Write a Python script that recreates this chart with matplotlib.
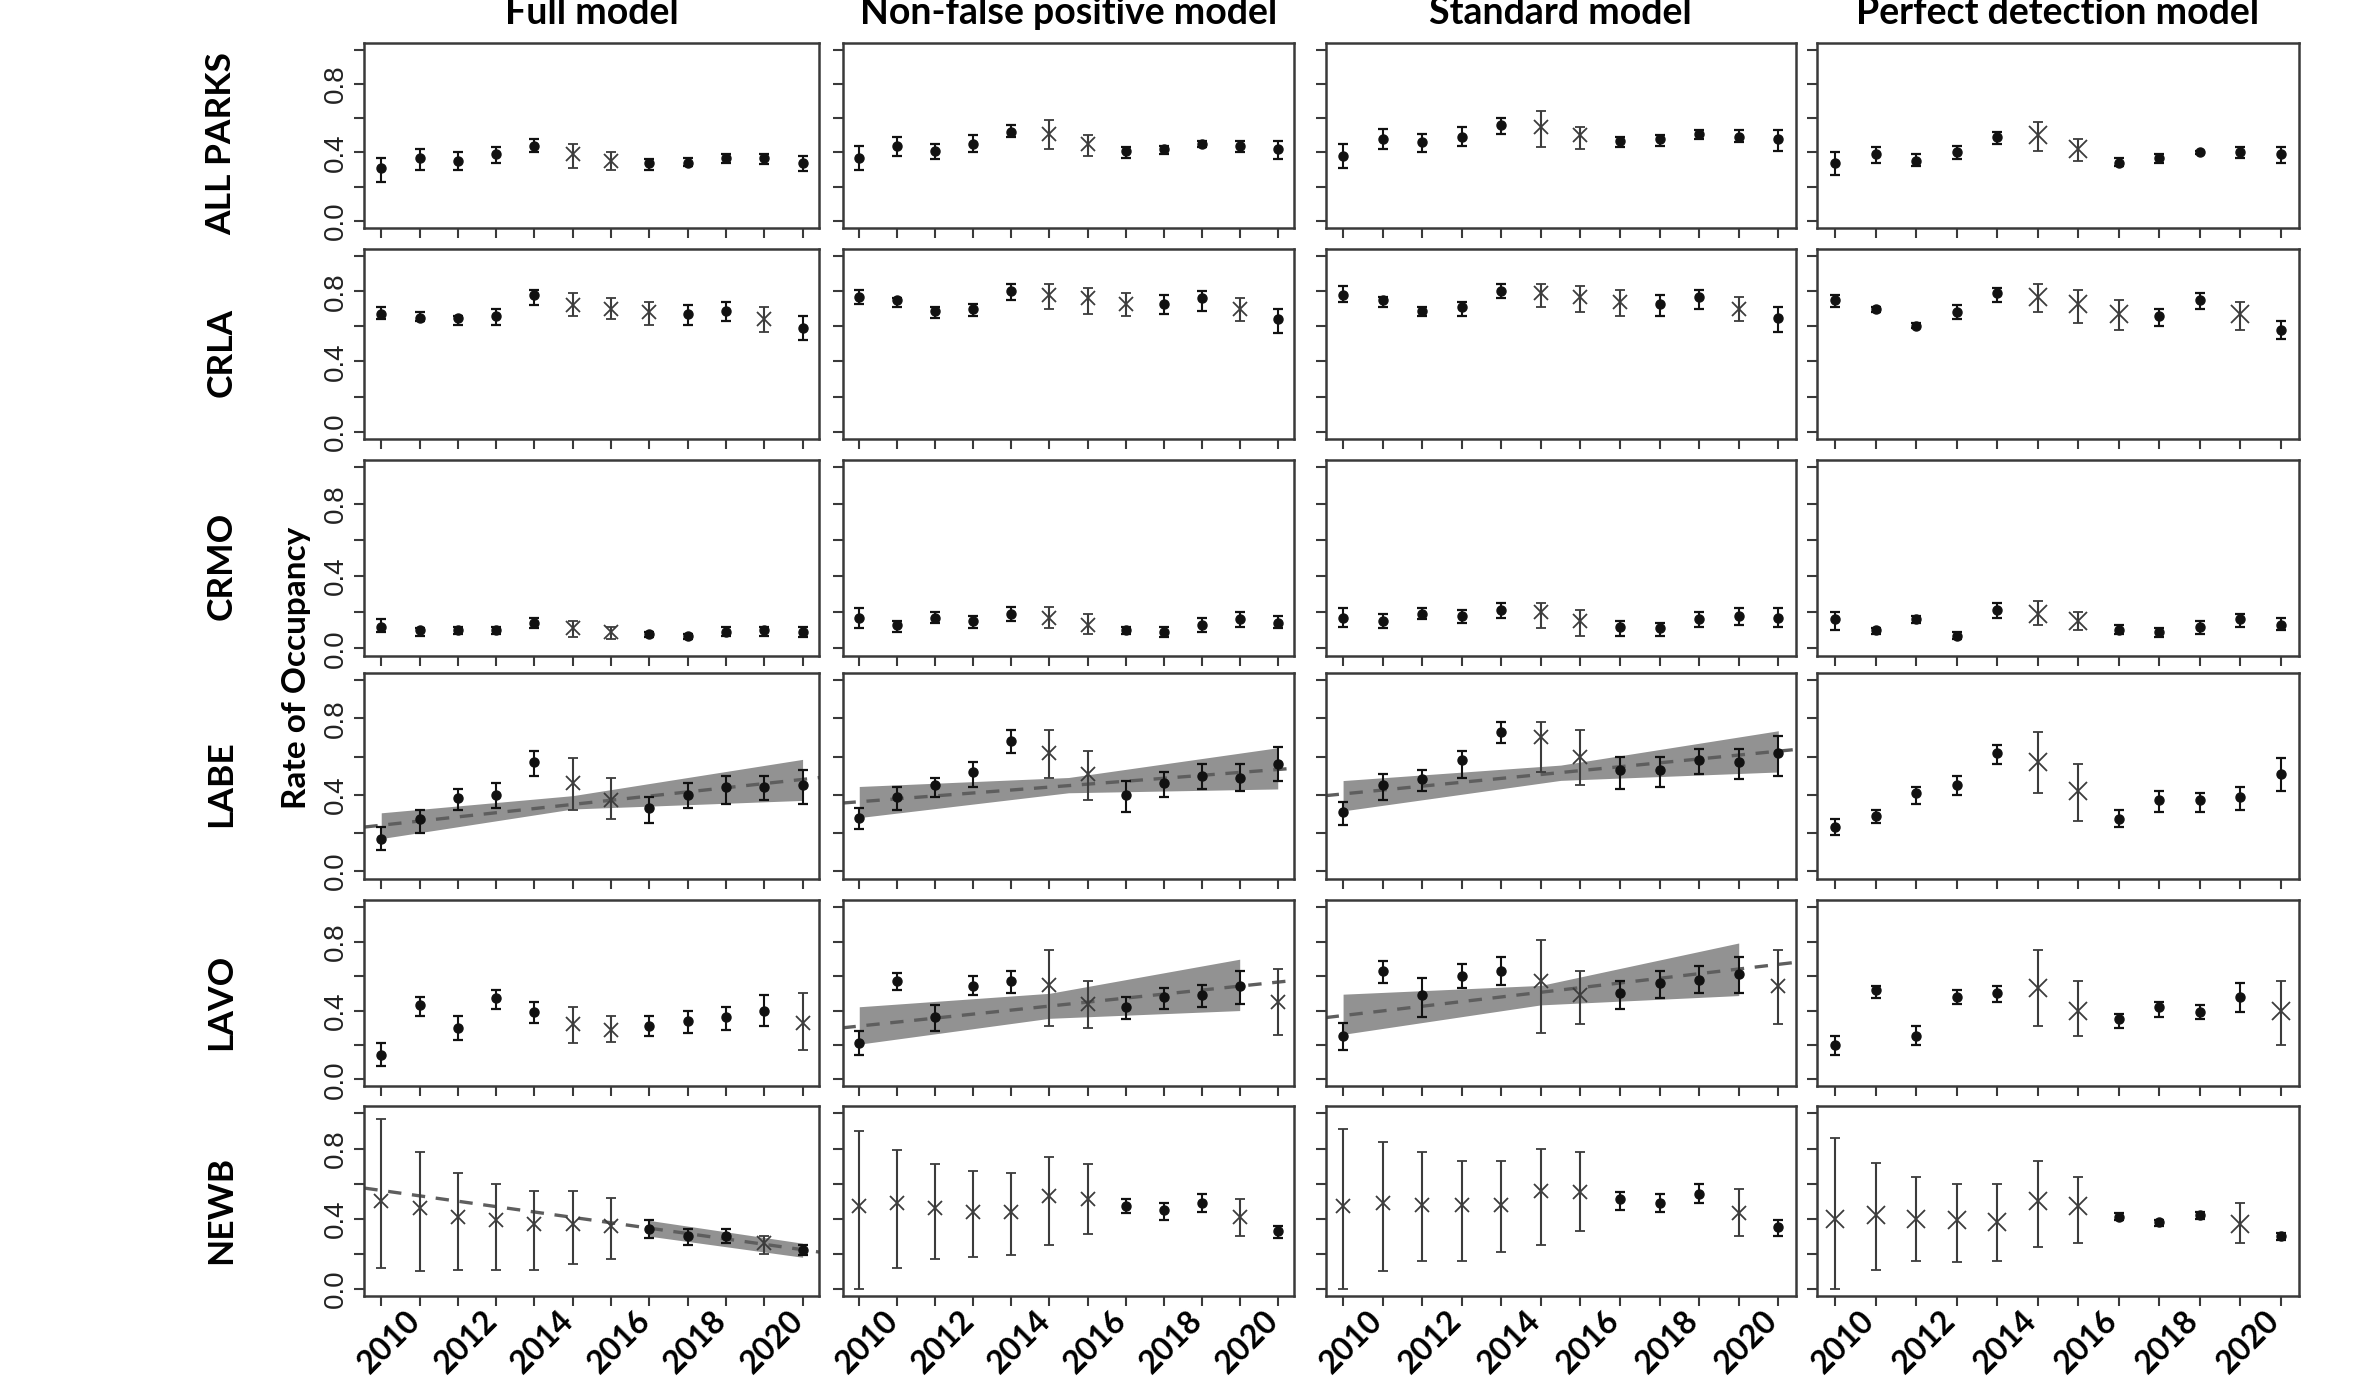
import numpy as np
import matplotlib.pyplot as plt
from matplotlib.transforms import ScaledTranslation

years = list(range(2010, 2022))
models = ["Full model", "Non-false positive model", "Standard model", "Perfect detection model"]
parks = ["ALL PARKS", "CRLA", "CRMO", "LABE", "LAVO", "NEWB"]

# years drawn with an "x" instead of a dot (same in every model)
x_years = {
    "ALL PARKS": [2015, 2016],
    "CRLA": [2015, 2016, 2017, 2020],
    "CRMO": [2015, 2016],
    "LABE": [2015, 2016],
    "LAVO": [2015, 2016, 2021],
    "NEWB": [2010, 2011, 2012, 2013, 2014, 2015, 2016, 2020],
}

# ---- Full model
full_est = {
    "ALL PARKS": [0.31, 0.37, 0.35, 0.39, 0.44, 0.39, 0.35, 0.34, 0.34, 0.37, 0.37, 0.34],
    "CRLA": [0.67, 0.65, 0.65, 0.66, 0.78, 0.72, 0.70, 0.68, 0.67, 0.69, 0.64, 0.59],
    "CRMO": [0.12, 0.10, 0.10, 0.10, 0.14, 0.11, 0.09, 0.08, 0.07, 0.09, 0.10, 0.09],
    "LABE": [0.17, 0.27, 0.38, 0.40, 0.57, 0.46, 0.37, 0.33, 0.40, 0.44, 0.44, 0.45],
    "LAVO": [0.14, 0.43, 0.30, 0.47, 0.39, 0.32, 0.29, 0.31, 0.34, 0.36, 0.40, 0.33],
    "NEWB": [0.50, 0.46, 0.41, 0.39, 0.37, 0.37, 0.36, 0.34, 0.30, 0.30, 0.26, 0.22],
}
full_lo = {
    "ALL PARKS": [0.23, 0.30, 0.30, 0.34, 0.40, 0.31, 0.30, 0.30, 0.32, 0.34, 0.33, 0.29],
    "CRLA": [0.64, 0.63, 0.61, 0.61, 0.72, 0.66, 0.64, 0.61, 0.61, 0.63, 0.57, 0.52],
    "CRMO": [0.09, 0.07, 0.08, 0.08, 0.11, 0.06, 0.05, 0.06, 0.05, 0.07, 0.07, 0.06],
    "LABE": [0.11, 0.20, 0.32, 0.33, 0.50, 0.32, 0.27, 0.25, 0.33, 0.35, 0.37, 0.35],
    "LAVO": [0.08, 0.37, 0.23, 0.41, 0.33, 0.21, 0.22, 0.25, 0.27, 0.29, 0.31, 0.17],
    "NEWB": [0.12, 0.10, 0.11, 0.11, 0.11, 0.14, 0.17, 0.29, 0.25, 0.26, 0.20, 0.19],
}
full_hi = {
    "ALL PARKS": [0.37, 0.42, 0.40, 0.43, 0.48, 0.45, 0.40, 0.36, 0.37, 0.39, 0.39, 0.38],
    "CRLA": [0.71, 0.68, 0.66, 0.70, 0.81, 0.79, 0.76, 0.74, 0.72, 0.74, 0.71, 0.66],
    "CRMO": [0.16, 0.11, 0.12, 0.12, 0.17, 0.15, 0.12, 0.09, 0.08, 0.12, 0.12, 0.12],
    "LABE": [0.23, 0.32, 0.43, 0.46, 0.63, 0.59, 0.49, 0.39, 0.46, 0.50, 0.50, 0.53],
    "LAVO": [0.21, 0.48, 0.37, 0.52, 0.45, 0.42, 0.37, 0.37, 0.40, 0.42, 0.49, 0.50],
    "NEWB": [0.97, 0.78, 0.66, 0.60, 0.56, 0.56, 0.52, 0.39, 0.34, 0.34, 0.30, 0.25],
}

# ---- Non-false positive model
nfp_est = {
    "ALL PARKS": [0.37, 0.44, 0.41, 0.45, 0.52, 0.51, 0.45, 0.41, 0.42, 0.45, 0.44, 0.42],
    "CRLA": [0.77, 0.75, 0.69, 0.70, 0.80, 0.78, 0.76, 0.73, 0.73, 0.76, 0.70, 0.64],
    "CRMO": [0.17, 0.13, 0.17, 0.15, 0.19, 0.17, 0.13, 0.10, 0.09, 0.13, 0.16, 0.14],
    "LABE": [0.28, 0.39, 0.45, 0.52, 0.68, 0.62, 0.51, 0.40, 0.46, 0.50, 0.49, 0.56],
    "LAVO": [0.21, 0.57, 0.36, 0.54, 0.57, 0.55, 0.44, 0.42, 0.48, 0.49, 0.54, 0.45],
    "NEWB": [0.47, 0.49, 0.46, 0.44, 0.44, 0.53, 0.51, 0.47, 0.45, 0.49, 0.41, 0.33],
}
nfp_lo = {
    "ALL PARKS": [0.30, 0.38, 0.36, 0.40, 0.49, 0.42, 0.38, 0.37, 0.39, 0.43, 0.40, 0.36],
    "CRLA": [0.73, 0.71, 0.65, 0.66, 0.75, 0.70, 0.67, 0.66, 0.67, 0.69, 0.63, 0.56],
    "CRMO": [0.11, 0.09, 0.14, 0.11, 0.15, 0.11, 0.08, 0.08, 0.06, 0.09, 0.12, 0.11],
    "LABE": [0.22, 0.32, 0.39, 0.44, 0.62, 0.49, 0.37, 0.31, 0.39, 0.43, 0.42, 0.47],
    "LAVO": [0.14, 0.52, 0.28, 0.49, 0.50, 0.31, 0.30, 0.35, 0.41, 0.42, 0.44, 0.26],
    "NEWB": [0.00, 0.12, 0.17, 0.18, 0.19, 0.25, 0.31, 0.43, 0.39, 0.44, 0.30, 0.29],
}
nfp_hi = {
    "ALL PARKS": [0.44, 0.49, 0.45, 0.50, 0.56, 0.59, 0.50, 0.43, 0.44, 0.47, 0.47, 0.47],
    "CRLA": [0.81, 0.76, 0.71, 0.73, 0.84, 0.84, 0.82, 0.79, 0.78, 0.80, 0.76, 0.70],
    "CRMO": [0.22, 0.15, 0.20, 0.18, 0.23, 0.23, 0.19, 0.12, 0.12, 0.17, 0.20, 0.18],
    "LABE": [0.33, 0.44, 0.49, 0.57, 0.74, 0.74, 0.63, 0.47, 0.52, 0.56, 0.56, 0.65],
    "LAVO": [0.28, 0.62, 0.43, 0.60, 0.63, 0.75, 0.57, 0.48, 0.53, 0.55, 0.63, 0.64],
    "NEWB": [0.90, 0.79, 0.71, 0.67, 0.66, 0.75, 0.71, 0.51, 0.49, 0.54, 0.51, 0.36],
}

# ---- Standard model
std_est = {
    "ALL PARKS": [0.38, 0.48, 0.46, 0.49, 0.56, 0.55, 0.50, 0.47, 0.48, 0.51, 0.49, 0.48],
    "CRLA": [0.78, 0.75, 0.69, 0.71, 0.80, 0.79, 0.77, 0.74, 0.73, 0.77, 0.70, 0.65],
    "CRMO": [0.17, 0.15, 0.19, 0.18, 0.21, 0.20, 0.15, 0.12, 0.11, 0.16, 0.18, 0.17],
    "LABE": [0.31, 0.45, 0.48, 0.58, 0.73, 0.70, 0.60, 0.53, 0.53, 0.58, 0.57, 0.62],
    "LAVO": [0.25, 0.63, 0.49, 0.60, 0.63, 0.57, 0.49, 0.50, 0.56, 0.58, 0.61, 0.54],
    "NEWB": [0.47, 0.49, 0.48, 0.48, 0.48, 0.56, 0.55, 0.51, 0.49, 0.54, 0.43, 0.35],
}
std_lo = {
    "ALL PARKS": [0.31, 0.42, 0.40, 0.44, 0.51, 0.43, 0.42, 0.43, 0.44, 0.48, 0.46, 0.41],
    "CRLA": [0.74, 0.71, 0.66, 0.66, 0.76, 0.71, 0.68, 0.66, 0.66, 0.70, 0.63, 0.57],
    "CRMO": [0.12, 0.11, 0.16, 0.14, 0.17, 0.11, 0.07, 0.07, 0.07, 0.12, 0.13, 0.12],
    "LABE": [0.24, 0.37, 0.42, 0.49, 0.67, 0.52, 0.45, 0.43, 0.44, 0.51, 0.48, 0.50],
    "LAVO": [0.17, 0.56, 0.36, 0.53, 0.55, 0.27, 0.32, 0.41, 0.47, 0.50, 0.50, 0.32],
    "NEWB": [0.00, 0.10, 0.16, 0.16, 0.21, 0.25, 0.33, 0.45, 0.44, 0.49, 0.30, 0.30],
}
std_hi = {
    "ALL PARKS": [0.45, 0.54, 0.51, 0.55, 0.60, 0.64, 0.55, 0.49, 0.50, 0.53, 0.53, 0.53],
    "CRLA": [0.83, 0.77, 0.71, 0.74, 0.84, 0.84, 0.83, 0.81, 0.78, 0.81, 0.77, 0.71],
    "CRMO": [0.22, 0.19, 0.22, 0.21, 0.25, 0.25, 0.21, 0.15, 0.14, 0.20, 0.22, 0.22],
    "LABE": [0.36, 0.51, 0.53, 0.63, 0.78, 0.78, 0.74, 0.60, 0.60, 0.64, 0.64, 0.71],
    "LAVO": [0.33, 0.69, 0.59, 0.67, 0.71, 0.81, 0.63, 0.57, 0.63, 0.66, 0.71, 0.75],
    "NEWB": [0.91, 0.84, 0.78, 0.73, 0.73, 0.80, 0.78, 0.55, 0.54, 0.60, 0.57, 0.39],
}

# ---- Perfect detection model
pd_est = {
    "ALL PARKS": [0.34, 0.39, 0.35, 0.40, 0.49, 0.50, 0.42, 0.34, 0.37, 0.40, 0.40, 0.39],
    "CRLA": [0.75, 0.70, 0.60, 0.68, 0.79, 0.77, 0.73, 0.67, 0.66, 0.75, 0.67, 0.58],
    "CRMO": [0.16, 0.10, 0.16, 0.07, 0.21, 0.19, 0.15, 0.10, 0.09, 0.12, 0.16, 0.13],
    "LABE": [0.23, 0.29, 0.41, 0.45, 0.62, 0.57, 0.42, 0.27, 0.37, 0.37, 0.39, 0.51],
    "LAVO": [0.20, 0.52, 0.25, 0.48, 0.50, 0.53, 0.40, 0.35, 0.42, 0.39, 0.48, 0.40],
    "NEWB": [0.40, 0.42, 0.40, 0.39, 0.38, 0.50, 0.47, 0.41, 0.38, 0.42, 0.37, 0.30],
}
pd_lo = {
    "ALL PARKS": [0.27, 0.34, 0.32, 0.36, 0.45, 0.41, 0.35, 0.32, 0.34, 0.39, 0.37, 0.34],
    "CRLA": [0.71, 0.68, 0.59, 0.64, 0.74, 0.68, 0.62, 0.58, 0.60, 0.70, 0.58, 0.53],
    "CRMO": [0.10, 0.08, 0.14, 0.05, 0.17, 0.13, 0.10, 0.08, 0.06, 0.08, 0.12, 0.10],
    "LABE": [0.19, 0.25, 0.35, 0.40, 0.56, 0.41, 0.26, 0.23, 0.31, 0.31, 0.32, 0.42],
    "LAVO": [0.14, 0.47, 0.20, 0.44, 0.45, 0.31, 0.25, 0.30, 0.36, 0.35, 0.39, 0.20],
    "NEWB": [0.00, 0.11, 0.16, 0.15, 0.16, 0.24, 0.26, 0.39, 0.36, 0.40, 0.26, 0.28],
}
pd_hi = {
    "ALL PARKS": [0.40, 0.43, 0.39, 0.44, 0.52, 0.58, 0.48, 0.37, 0.39, 0.41, 0.43, 0.43],
    "CRLA": [0.78, 0.71, 0.62, 0.72, 0.82, 0.84, 0.81, 0.75, 0.70, 0.79, 0.74, 0.63],
    "CRMO": [0.20, 0.11, 0.18, 0.09, 0.25, 0.26, 0.20, 0.13, 0.11, 0.15, 0.19, 0.17],
    "LABE": [0.27, 0.32, 0.44, 0.50, 0.66, 0.73, 0.56, 0.32, 0.42, 0.41, 0.44, 0.59],
    "LAVO": [0.25, 0.54, 0.31, 0.52, 0.54, 0.75, 0.57, 0.38, 0.45, 0.43, 0.56, 0.57],
    "NEWB": [0.86, 0.72, 0.64, 0.60, 0.60, 0.73, 0.64, 0.43, 0.39, 0.44, 0.49, 0.32],
}

# ---- fitted trends: line value at 2010 and 2021, band (years, lower, upper)
full_labe_line = [0.24, 0.48]
full_labe_band = ([2010, 2015, 2021], [0.17, 0.325, 0.37], [0.305, 0.395, 0.585])
full_newb_line = [0.561, 0.223]
full_newb_band = ([2017, 2021], [0.30, 0.18], [0.39, 0.26])
nfp_labe_line = [0.363, 0.532]
nfp_labe_band = ([2010, 2015.5, 2021], [0.28, 0.41, 0.43], [0.443, 0.49, 0.646])
nfp_lavo_line = [0.31, 0.565]
nfp_lavo_band = ([2010, 2015, 2020], [0.205, 0.355, 0.40], [0.422, 0.50, 0.698])
std_labe_line = [0.404, 0.628]
std_labe_band = ([2010, 2015.5, 2021], [0.315, 0.475, 0.519], [0.474, 0.555, 0.735])
std_lavo_line = [0.371, 0.668]
std_lavo_band = ([2010, 2015, 2020], [0.262, 0.433, 0.487], [0.495, 0.546, 0.792])

model_data = [(full_est, full_lo, full_hi), (nfp_est, nfp_lo, nfp_hi),
              (std_est, std_lo, std_hi), (pd_est, pd_lo, pd_hi)]
trends = {
    (0, "LABE"): (full_labe_line, full_labe_band),
    (0, "NEWB"): (full_newb_line, full_newb_band),
    (1, "LABE"): (nfp_labe_line, nfp_labe_band),
    (1, "LAVO"): (nfp_lavo_line, nfp_lavo_band),
    (2, "LABE"): (std_labe_line, std_labe_band),
    (2, "LAVO"): (std_lavo_line, std_lavo_band),
}

# layout (figure fractions)
col_left = [0.1531, 0.354, 0.557, 0.7636]
col_right = [0.3443, 0.5439, 0.7545, 0.9658]
row_top = [0.9689, 0.82, 0.6678, 0.5144, 0.35, 0.2011]
row_bot = [0.8356, 0.6833, 0.5267, 0.3656, 0.2156, 0.0644]

frame_col = "#3a3a3a"
bold_font = "Lato"

fig = plt.figure(figsize=(23.8, 13.85), dpi=100)

for c, model in enumerate(models):
    est, lo, hi = model_data[c]
    for r, park in enumerate(parks):
        ax = fig.add_axes([col_left[c], row_bot[r],
                           col_right[c] - col_left[c], row_top[r] - row_bot[r]])

        if (c, park) in trends:
            line, band = trends[(c, park)]
            ax.fill_between(band[0], band[1], band[2], color="#929292",
                            lw=0, zorder=1)
            ax.axline((2010, line[0]), (2021, line[1]), color="#5e5e5e",
                      lw=2.4, dashes=(4, 3.2), zorder=2)

        e = np.array(est[park])
        l = np.array(lo[park])
        h = np.array(hi[park])
        yrs = np.array(years)
        is_x = np.isin(yrs, x_years[park])

        dots = ~is_x
        ax.errorbar(yrs[dots], e[dots], yerr=[e[dots] - l[dots], h[dots] - e[dots]],
                    fmt="o", color="#111111", ms=6.5, elinewidth=1.5,
                    capsize=3.4, capthick=1.6, zorder=3)
        xsize = 13 if c == 3 else 10
        ax.errorbar(yrs[is_x], e[is_x], yerr=[e[is_x] - l[is_x], h[is_x] - e[is_x]],
                    fmt="x", color="#3c3c3c", ms=xsize, mew=1.3, elinewidth=1.5,
                    capsize=3.4, capthick=1.6, zorder=3)

        ax.set_xlim(2009.56, 2021.44)
        ax.set_ylim(-0.04, 1.04)
        ax.set_xticks(years)
        ax.set_yticks([0.0, 0.2, 0.4, 0.6, 0.8, 1.0])
        for s in ax.spines.values():
            s.set_color(frame_col)
            s.set_linewidth(1.8)
        ax.tick_params(direction="out", length=7, width=1.5, color=frame_col)

        if c == 0:
            ax.set_yticklabels(["0.0", "", "0.4", "", "0.8", ""], rotation=90,
                               va="center", fontsize=20, family="Liberation Sans",
                               color="#222222")
            ax.tick_params(axis="y", pad=4)
            fig.text(0.093, (row_top[r] + row_bot[r]) / 2 - 0.006, park, rotation=90,
                     ha="center", va="center", fontsize=25.5, fontweight="bold",
                     family=bold_font)
        else:
            ax.set_yticklabels([])

        if r == len(parks) - 1:
            ax.set_xticklabels([str(y) if y % 2 == 0 else "" for y in years],
                               rotation=45, ha="center", va="top", fontsize=23,
                               fontweight="bold", family=bold_font)
            ax.tick_params(axis="x", pad=0)
            off = ScaledTranslation(0.08, 0, fig.dpi_scale_trans)
            for lab in ax.get_xticklabels():
                lab.set_transform(lab.get_transform() + off)
        else:
            ax.set_xticklabels([])

    fig.text((col_left[c] + col_right[c]) / 2, 0.9827, model, ha="center",
             va="baseline", fontsize=27, fontweight="bold", family=bold_font)

fig.text(0.1247, 0.518, "Rate of Occupancy", rotation=90, ha="center", va="center",
         fontsize=24, fontweight="bold", family=bold_font)

fig.savefig("out.png", dpi=100, facecolor="white")
